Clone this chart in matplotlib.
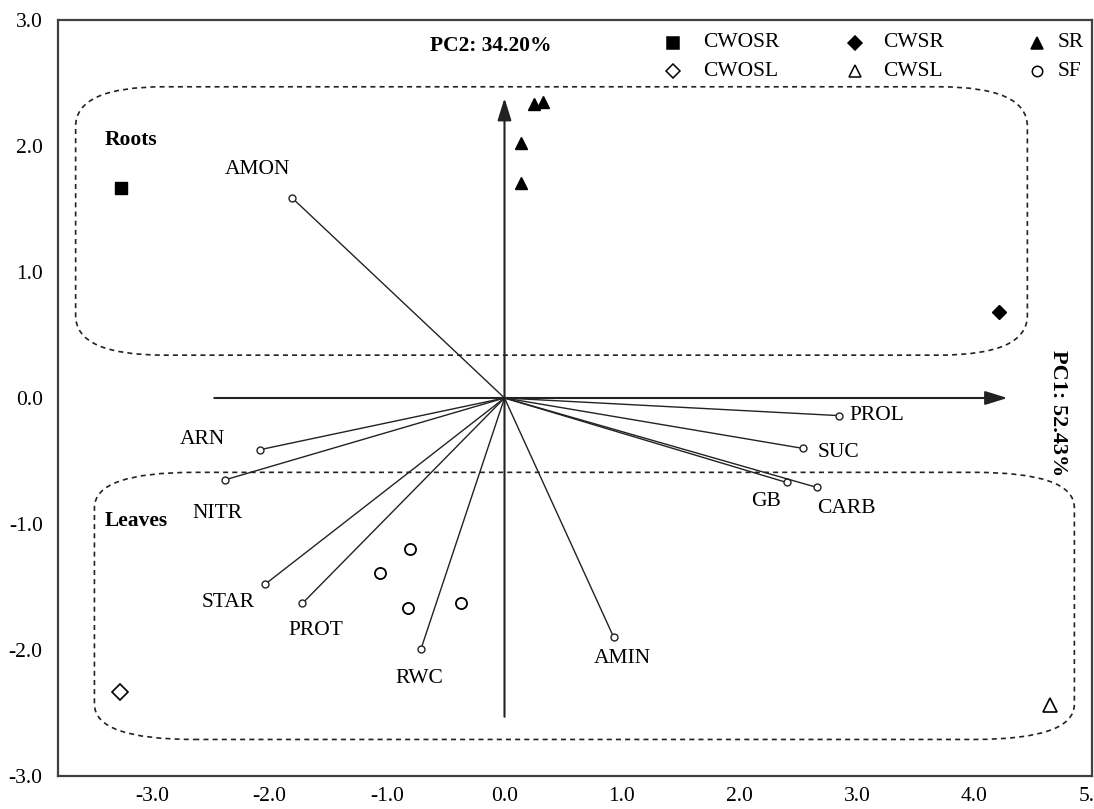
import matplotlib
matplotlib.use("Agg")
import matplotlib.pyplot as plt
from matplotlib.patches import FancyBboxPatch

plt.rcParams['font.family'] = ['Liberation Serif', 'DejaVu Serif']

# variable loadings (PC1, PC2)
var_names = ["AMON", "ARN", "NITR", "STAR", "PROT", "RWC", "AMIN", "PROL", "SUC", "GB", "CARB"]
var_pc1 = [-1.81, -2.08, -2.38, -2.04, -1.72, -0.71, 0.93, 2.85, 2.54, 2.40, 2.66]
var_pc2 = [1.59, -0.41, -0.65, -1.48, -1.63, -1.99, -1.90, -0.14, -0.40, -0.67, -0.71]

# sample scores
cwosr_x, cwosr_y = [-3.26], [1.67]
cwsr_x, cwsr_y = [4.21], [0.68]
sr_x = [0.25, 0.33, 0.14, 0.14]
sr_y = [2.33, 2.35, 2.02, 1.71]
cwosl_x, cwosl_y = [-3.27], [-2.33]
cwsl_x, cwsl_y = [4.64], [-2.44]
sf_x = [-0.80, -1.06, -0.82, -0.37]
sf_y = [-1.20, -1.39, -1.67, -1.63]

xticks = [-3, -2, -1, 0, 1, 2, 3, 4, 5]
yticks = [-3, -2, -1, 0, 1, 2, 3]

# label offsets in pixels (layout only)
label_off = {
    "AMON": (-34, 28), "ARN": (-58, 10), "NITR": (-7, -34), "STAR": (-37, -18),
    "PROT": (13, -27), "RWC": (-2, -30), "AMIN": (9, -21), "PROL": (38, 0),
    "SUC": (36, -4), "GB": (-20, -19), "CARB": (29, -21),
}

fs = 15.5
fig = plt.figure(figsize=(10.94, 8.09), dpi=100)
ax = fig.add_axes([58 / 1094, 33 / 809, 1034 / 1094, 756 / 809])
ax.set_xlim(-3.8, 5.0)
ax.set_ylim(-3.0, 3.0)
ax.set_xticks(xticks)
ax.set_yticks(yticks)
ax.set_xticklabels(["%.1f" % v for v in xticks], fontsize=fs)
ax.set_yticklabels(["%.1f" % v for v in yticks], fontsize=fs)
ax.tick_params(length=0)
ax.tick_params(axis='x', pad=8)
ax.tick_params(axis='y', pad=11)
for s in ax.spines.values():
    s.set_color('#404040')
    s.set_linewidth(1.6)

# group boxes
roots = FancyBboxPatch((-3.65, 0.34), 8.10, 2.13,
                       boxstyle="round,pad=0,rounding_size=0.75", mutation_aspect=0.42,
                       fill=False, ec='#222222', lw=1.2, ls=(0, (3, 2.5)))
leaves = FancyBboxPatch((-3.49, -2.71), 8.34, 2.12,
                        boxstyle="round,pad=0,rounding_size=0.85", mutation_aspect=0.33,
                        fill=False, ec='#222222', lw=1.2, ls=(0, (3, 2.5)))
ax.add_patch(roots)
ax.add_patch(leaves)

# axis arrows
arrow = dict(arrowstyle='-|>,head_length=0.9,head_width=0.28', color='#222222', lw=1.5,
             shrinkA=0, shrinkB=0, mutation_scale=15)
ax.annotate("", xy=(0, 2.38), xytext=(0, -2.53), arrowprops=arrow)
ax.annotate("", xy=(4.28, 0), xytext=(-2.47, 0), arrowprops=arrow)

# loading vectors
for name, px, py in zip(var_names, var_pc1, var_pc2):
    ax.plot([0, px], [0, py], '-', color='#222222', lw=1.0)
    ax.plot(px, py, 'o', ms=5, mfc='white', mec='#222222', mew=1.0)
    ax.annotate(name, (px, py), xytext=label_off[name], textcoords='offset pixels',
                ha='center', va='center', fontsize=fs)

# samples
ax.plot(cwosr_x, cwosr_y, 's', ms=9, color='black', ls='none')
ax.plot(cwsr_x, cwsr_y, 'D', ms=7.5, color='black', ls='none')
ax.plot(sr_x, sr_y, '^', ms=9, color='black', ls='none')
ax.plot(cwosl_x, cwosl_y, 'D', ms=8, mfc='white', mec='black', mew=1.2, ls='none')
ax.plot(cwsl_x, cwsl_y, '^', ms=9.5, mfc='white', mec='black', mew=1.2, ls='none')
ax.plot(sf_x, sf_y, 'o', ms=8, mfc='white', mec='black', mew=1.3, ls='none')

# group names and axis titles
ax.text(-3.40, 2.05, "Roots", fontsize=fs, fontweight='bold', ha='left', va='center')
ax.text(-3.40, -0.98, "Leaves", fontsize=fs, fontweight='bold', ha='left', va='center')
ax.text(0.3598, 0.9656, "PC2: 34.20%", transform=ax.transAxes, fontsize=fs,
        fontweight='bold', ha='left', va='center')
ax.text(0.9671, 0.4802, "PC1: 52.43%", transform=ax.transAxes, fontsize=fs + 0.5,
        fontweight='bold', ha='center', va='center', rotation=-90)

# legend drawn by hand
leg = [
    ('s', 'black', "CWOSR", 0.5948, 0.6238, 0.9696, 9),
    ('D', 'black', "CWSR", 0.7708, 0.7979, 0.9696, 7),
    ('^', 'black', "SR", 0.9468, 0.9671, 0.9696, 8.5),
    ('D', 'white', "CWOSL", 0.5948, 0.6238, 0.9325, 7),
    ('^', 'white', "CWSL", 0.7708, 0.7979, 0.9325, 8.5),
    ('o', 'white', "SF", 0.9468, 0.9671, 0.9325, 7.5),
]
for m, fc, txt, mx, tx, ty, ms in leg:
    ax.plot(mx, ty, m, ms=ms, mfc=fc, mec='black', mew=1.1, transform=ax.transAxes,
            clip_on=False)
    ax.text(tx, ty, txt, transform=ax.transAxes, fontsize=fs, ha='left', va='center')

fig.savefig("out.png", dpi=100)
